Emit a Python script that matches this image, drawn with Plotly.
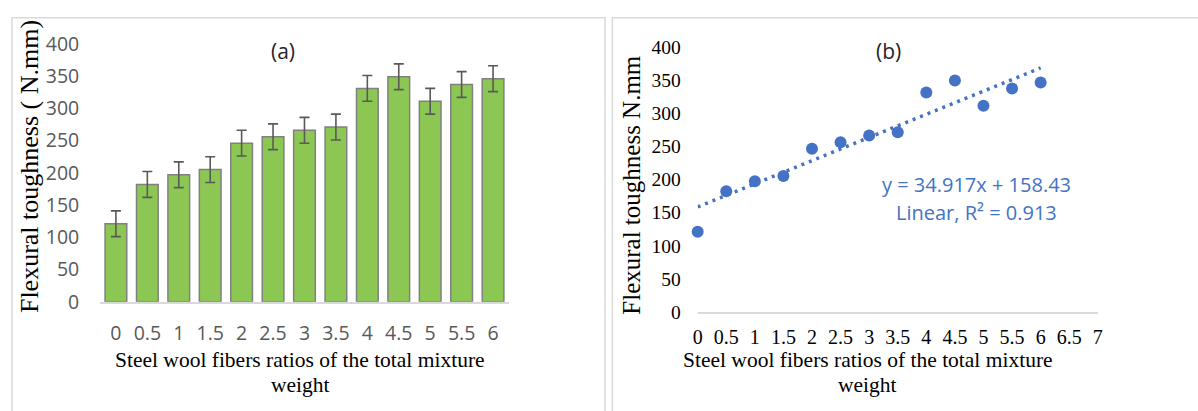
import plotly.graph_objects as go

# ---- data ----
ratios = ["0", "0.5", "1", "1.5", "2", "2.5", "3", "3.5", "4", "4.5", "5", "5.5", "6"]
ratio_values = [0, 0.5, 1, 1.5, 2, 2.5, 3, 3.5, 4, 4.5, 5, 5.5, 6]
toughness = [121, 182, 197, 205, 246, 256, 266, 271, 331, 349, 311, 337, 346]
toughness_err = [20, 20, 20, 20, 20, 20, 20, 20, 20, 20, 20, 20, 20]
trend_slope = 34.917
trend_intercept = 158.43
trend_x = [0, 6]
trend_y = [trend_slope * x + trend_intercept for x in trend_x]

W, H = 1198, 411
def px(x):
    return x / W
def py(y):
    return 1 - y / H

serif = "Liberation Serif, Times New Roman, serif"
sans = "Open Sans, Noto Sans, sans-serif"
blue = "#4472C4"

fig = go.Figure()

fig.add_trace(go.Bar(
    x=ratios, y=toughness,
    marker=dict(color="#8DC753", line=dict(color="#808080", width=1.5)),
    error_y=dict(type="data", array=toughness_err, visible=True,
                 color="#595959", thickness=1.6, width=5),
    xaxis="x", yaxis="y", showlegend=False,
))

fig.add_trace(go.Scatter(
    x=trend_x, y=trend_y, mode="lines",
    line=dict(color=blue, width=3.5, dash="3px,5px"),
    xaxis="x2", yaxis="y2", showlegend=False, cliponaxis=False,
))
fig.add_trace(go.Scatter(
    x=ratio_values, y=toughness, mode="markers",
    marker=dict(color=blue, size=12),
    xaxis="x2", yaxis="y2", showlegend=False, cliponaxis=False,
))

fig.update_layout(
    width=W, height=H,
    margin=dict(l=0, r=0, t=0, b=0),
    paper_bgcolor="white", plot_bgcolor="white",
    bargap=0.31,
    xaxis=dict(domain=[px(96), px(508)], anchor="y", type="category",
               range=[-0.5, 12.5], showgrid=False, zeroline=False,
               showline=True, linecolor="#D9D9D9", linewidth=1.5,
               ticks="", ticklabelstandoff=13,
               tickfont=dict(family=sans, size=19.5, color="#595959")),
    yaxis=dict(domain=[py(308), py(32)], anchor="x", range=[0, 400],
               dtick=50, showgrid=False, zeroline=False, showline=False,
               ticks="", ticklabelstandoff=20,
               tickfont=dict(family=sans, size=19.5, color="#595959")),
    xaxis2=dict(domain=[px(698.5), px(1102)], anchor="y2", range=[0, 7],
                dtick=0.5, showgrid=False, zeroline=False,
                showline=True, linecolor="#D9D9D9", linewidth=1.5,
                ticks="", ticklabelstandoff=6,
                tickfont=dict(family=serif, size=20, color="#000000")),
    yaxis2=dict(domain=[py(319), py(35)], anchor="x2", range=[0, 400],
                dtick=50, showgrid=False, zeroline=False, showline=False,
                ticks="", ticklabelstandoff=16,
                tickfont=dict(family=serif, size=19.5, color="#000000")),
    shapes=[
        dict(type="rect", xref="paper", yref="paper",
             x0=px(7), x1=px(605), y0=py(430), y1=py(4),
             line=dict(color="#D9D9D9", width=1.5)),
        dict(type="rect", xref="paper", yref="paper",
             x0=px(612.5), x1=px(1220), y0=py(430), y1=py(4),
             line=dict(color="#D9D9D9", width=1.5)),
    ],
    annotations=[
        dict(text="(a)", x=px(280), y=py(40), xref="paper", yref="paper",
             showarrow=False, xanchor="center", yanchor="middle",
             font=dict(family=sans, size=21, color="#262626")),
        dict(text="(b)", x=px(891), y=py(40), xref="paper", yref="paper",
             showarrow=False, xanchor="center", yanchor="middle",
             font=dict(family=sans, size=21, color="#262626")),
        dict(text="Flexural toughness ( N.mm)", x=px(25), y=py(163),
             xref="paper", yref="paper", showarrow=False, textangle=-90,
             xanchor="center", yanchor="middle",
             font=dict(family=serif, size=26, color="#000000")),
        dict(text="Flexural toughness N.mm", x=px(632), y=py(183),
             xref="paper", yref="paper", showarrow=False, textangle=-90,
             xanchor="center", yanchor="middle",
             font=dict(family=serif, size=25, color="#000000")),
        dict(text="Steel wool fibers ratios of the total mixture", x=px(297), y=py(370),
             xref="paper", yref="paper", showarrow=False,
             xanchor="center", yanchor="middle",
             font=dict(family=serif, size=21.5, color="#000000")),
        dict(text="weight", x=px(298), y=py(397),
             xref="paper", yref="paper", showarrow=False,
             xanchor="center", yanchor="middle",
             font=dict(family=serif, size=21.5, color="#000000")),
        dict(text="Steel wool fibers ratios of the total mixture", x=px(870), y=py(370),
             xref="paper", yref="paper", showarrow=False,
             xanchor="center", yanchor="middle",
             font=dict(family=serif, size=21.5, color="#000000")),
        dict(text="weight", x=px(870), y=py(397),
             xref="paper", yref="paper", showarrow=False,
             xanchor="center", yanchor="middle",
             font=dict(family=serif, size=21.5, color="#000000")),
        dict(text="y = 34.917x + 158.43", x=px(980), y=py(182),
             xref="paper", yref="paper", showarrow=False,
             xanchor="center", yanchor="middle",
             font=dict(family=sans, size=20, color=blue)),
        dict(text="Linear, R² = 0.913", x=px(980), y=py(212),
             xref="paper", yref="paper", showarrow=False,
             xanchor="center", yanchor="middle",
             font=dict(family=sans, size=20, color=blue)),
    ],
)

fig.write_html("out.html")
